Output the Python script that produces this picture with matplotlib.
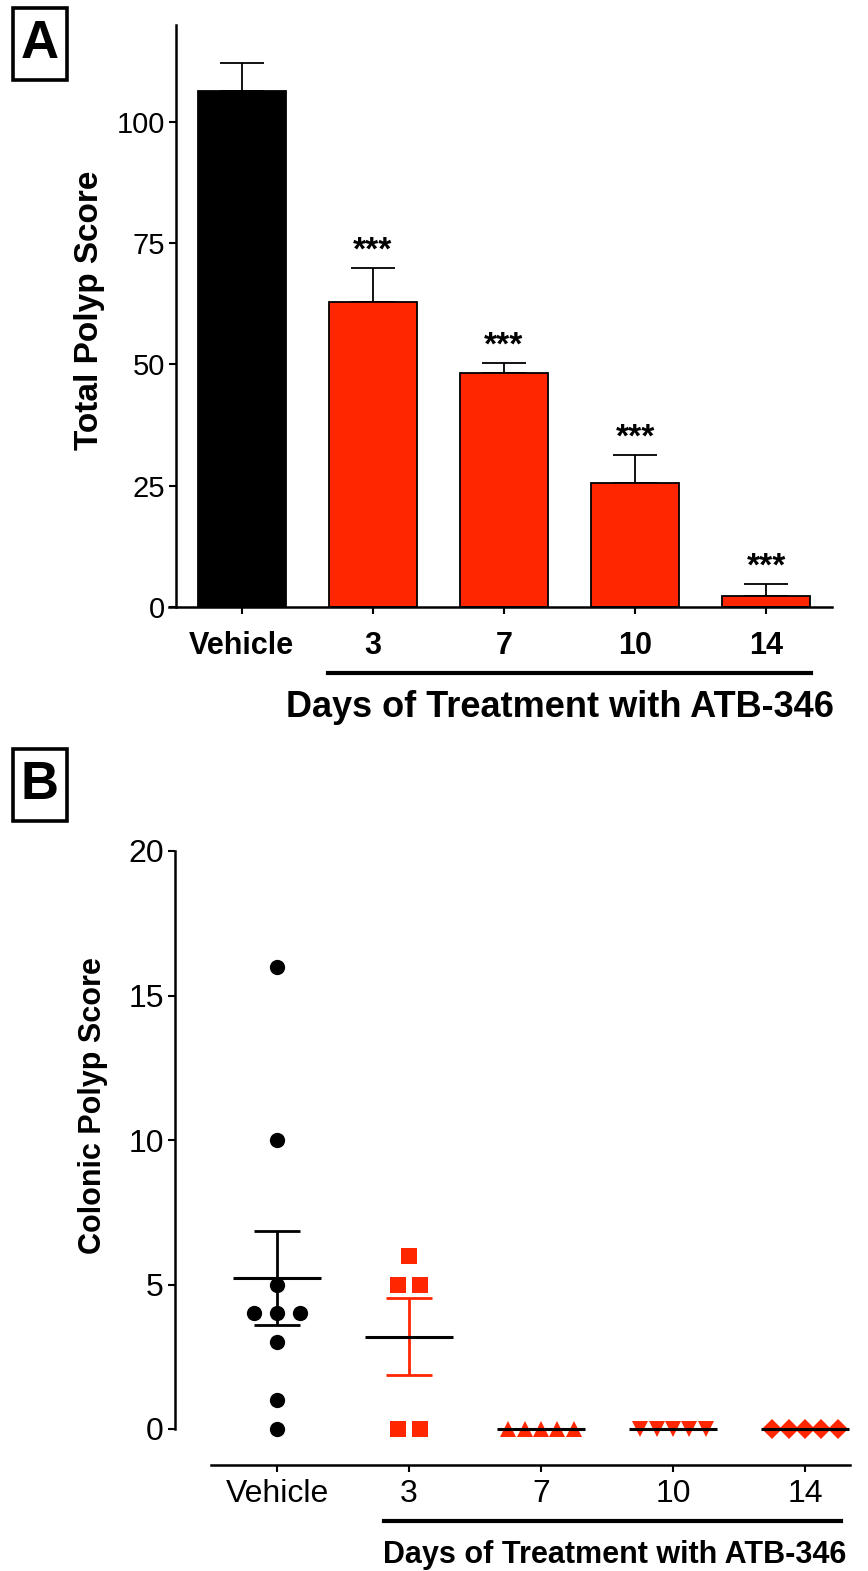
import numpy as np
from matplotlib import pyplot as plt
from matplotlib.patches import Rectangle

plt.rcParams['font.family'] = ['Liberation Sans', 'DejaVu Sans']

# panel A data (mean, SEM)
groups_a = ['Vehicle', '3', '7', '10', '14']
total_mean = [106.4, 62.9, 48.2, 25.6, 2.3]
total_sem = [5.8, 7.0, 2.1, 5.7, 2.4]
stars = ['', '***', '***', '***', '***']

# panel B data (individual animals)
groups_b = ['Vehicle', '3', '7', '10', '14']
colonic = [
    [16, 10, 5, 4, 4, 4, 3, 1, 0],
    [6, 5, 5, 0, 0],
    [0, 0, 0, 0, 0],
    [0, 0, 0, 0, 0],
    [0, 0, 0, 0, 0],
]

RED = '#FF2600'
W, H = 868, 1571

fig = plt.figure(figsize=(W / 100, H / 100), dpi=100)


def px_axes(l, t, r, b):
    # axes from pixel box
    return fig.add_axes([l / W, (H - b) / H, (r - l) / W, (b - t) / H])


def letter_box(txt, x0, y0, x1, y1):
    fig.add_artist(Rectangle((x0 / W, (H - y1) / H), (x1 - x0) / W, (y1 - y0) / H,
                             transform=fig.transFigure, fill=False, lw=2.6, ec='black'))
    fig.text((x0 + x1) / 2 / W, (H - (y0 + y1) / 2) / H, txt, ha='center', va='center',
             fontsize=38, fontweight='bold')


def beeswarm(vals, step):
    out = []
    for i, v in enumerate(vals):
        same = [j for j, u in enumerate(vals) if u == v]
        k = same.index(i)
        out.append((k - (len(same) - 1) / 2) * step)
    return np.array(out)


# ---------------- panel A
ax = px_axes(176, 25, 832, 607)
x = np.arange(len(groups_a))
colors = ['black'] + [RED] * (len(groups_a) - 1)
ax.bar(x, total_mean, width=0.67, color=colors, edgecolor='black', linewidth=1.3, zorder=2)
ax.errorbar(x, total_mean, yerr=[np.zeros(len(x)), total_sem], fmt='none', ecolor='black',
            elinewidth=1.3, capsize=15.5, capthick=1.3, zorder=1)
for xi, m, s, st in zip(x, total_mean, total_sem, stars):
    if st:
        ax.annotate(st, (xi, m + s), xytext=(0, 1), textcoords='offset points',
                    ha='center', va='bottom', fontsize=24, fontweight='bold')
ax.set_xlim(-0.5, 4.5)
ax.set_ylim(0, 120)
ax.set_yticks([0, 25, 50, 75, 100])
ax.set_xticks(x)
ax.set_xticklabels(groups_a, fontweight='bold', fontsize=22)
ax.tick_params(axis='y', labelsize=21, width=1.5, length=5, pad=3)
ax.tick_params(axis='x', width=1.5, length=5, pad=12)
for s in ['top', 'right']:
    ax.spines[s].set_visible(False)
for s in ['left', 'bottom']:
    ax.spines[s].set_linewidth(1.8)
ax.spines['bottom'].set_bounds(-0.55, 4.5)
ax.text(-0.132, 0.51, 'Total Polyp Score', transform=ax.transAxes, rotation=90,
        ha='center', va='center', fontsize=24, fontweight='bold')
ax.plot([0.66, 4.34], [-0.113, -0.113], color='black', lw=3,
        transform=ax.get_xaxis_transform(), clip_on=False)
ax.text(2.43, -0.172, 'Days of Treatment with ATB-346', transform=ax.get_xaxis_transform(),
        ha='center', va='center', fontsize=26, fontweight='bold')

letter_box('A', 13, 8, 67, 80)

# ---------------- panel B
bx = px_axes(211, 851, 850, 1429)
markers = ['o', 's', '^', 'v', 'D']
mcolors = ['black', RED, RED, RED, RED]
msizes = [11, 11, 11, 11, 10]
steps = [0.174, 0.167, 0.124, 0.124, 0.124]
for i, vals in enumerate(colonic):
    vals = np.array(vals, dtype=float)
    xo = i + beeswarm(list(vals), steps[i])
    bx.plot(xo, vals, linestyle='none', marker=markers[i], color=mcolors[i],
            markersize=msizes[i], markeredgewidth=0, clip_on=False, zorder=3)
    m = vals.mean()
    sem = vals.std(ddof=1) / np.sqrt(len(vals))
    if sem > 0:
        bx.errorbar([i], [m], yerr=[sem], fmt='none', ecolor=mcolors[i], elinewidth=2,
                    capsize=16.6, capthick=2, zorder=4)
    bx.hlines(m, i - 0.333, i + 0.333, color='black', lw=2.2, zorder=5, clip_on=False)

bx.set_xlim(-0.5, 4.34)
bx.set_ylim(0, 20)
bx.set_yticks([0, 5, 10, 15, 20])
bx.set_xticks(range(len(groups_b)))
bx.set_xticklabels(groups_b)
bx.tick_params(labelsize=23, width=1.5, length=5)
bx.tick_params(axis='y', pad=3)
bx.tick_params(axis='x', pad=5)
for s in ['top', 'right']:
    bx.spines[s].set_visible(False)
for s in ['left', 'bottom']:
    bx.spines[s].set_linewidth(1.8)
    bx.spines[s].set_position(('outward', 26))
bx.text(-0.185, 0.56, 'Colonic Polyp Score', transform=bx.transAxes, rotation=90,
        ha='center', va='center', fontsize=22, fontweight='bold')
bx.plot([0.81, 4.27], [-0.159, -0.159], color='black', lw=3,
        transform=bx.get_xaxis_transform(), clip_on=False)
bx.text(2.56, -0.218, 'Days of Treatment with ATB-346', transform=bx.get_xaxis_transform(),
        ha='center', va='center', fontsize=22, fontweight='bold')

letter_box('B', 13, 749, 67, 821)

plt.savefig('out.png', dpi=100)
